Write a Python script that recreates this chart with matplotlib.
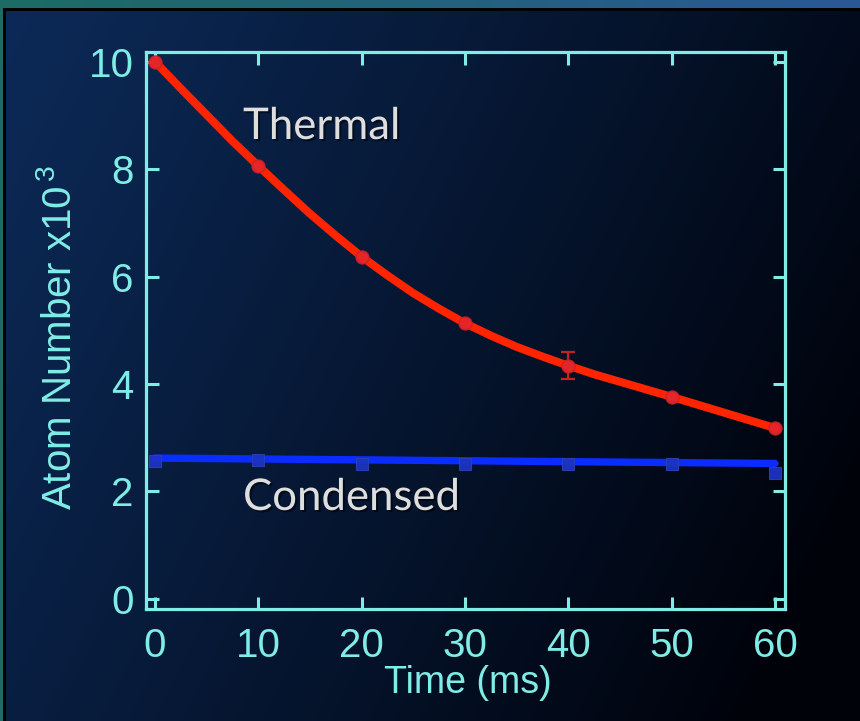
import numpy as np
import matplotlib
matplotlib.use("Agg")
import matplotlib.pyplot as plt
import matplotlib.patheffects as pe

# --- data -------------------------------------------------------------
time_ms = [0, 10, 20, 30, 40, 50, 60]
thermal = [10.0, 8.06, 6.37, 5.13, 4.34, 3.76, 3.18]
thermal_err = [0, 0, 0, 0, 0.25, 0, 0]
condensed = [2.57, 2.59, 2.51, 2.51, 2.51, 2.51, 2.35]

# fitted curves (sampled every 2.5 ms)
thermal_fit_t = [0, 2.5, 5, 7.5, 10, 12.5, 15, 17.5, 20, 22.5, 25, 27.5, 30,
                 32.5, 35, 37.5, 40, 42.5, 45, 47.5, 50, 52.5, 55, 57.5, 60]
thermal_fit_n = [10.0, 9.50, 9.01, 8.52, 8.06, 7.61, 7.17, 6.76, 6.37, 6.02,
                 5.69, 5.40, 5.13, 4.90, 4.69, 4.51, 4.34, 4.18, 4.04, 3.90,
                 3.76, 3.615, 3.47, 3.325, 3.18]
condensed_fit_t = [0, 60]
condensed_fit_n = [2.62, 2.52]

x_ticks = [0, 10, 20, 30, 40, 50, 60]
y_ticks = [0, 2, 4, 6, 8, 10]

W, H = 860, 721
CYAN = "#7FEDE6"

plt.rcParams["mathtext.fontset"] = "custom"
plt.rcParams["mathtext.rm"] = "Liberation Sans"
plt.rcParams["mathtext.it"] = "Liberation Sans"

fig = plt.figure(figsize=(W / 100, H / 100), dpi=100)

# --- slide-style background -------------------------------------------
yy, xx = np.mgrid[0:H, 0:W].astype(float)
bg = np.zeros((H, W, 3))
# outer teal frame
fx = xx / W
outer0 = np.array([28, 108, 100]) / 255
outer1 = np.array([42, 88, 150]) / 255
bg[:] = outer0 * (1 - fx[..., None]) + outer1 * fx[..., None]
# dark navy panel
s = np.clip(0.78 * xx / W + 0.32 * yy / H, 0, 1) ** 1.1
c0 = np.array([12, 42, 88]) / 255
c1 = np.array([0, 2, 10]) / 255
panel = c0 * (1 - s[..., None]) + c1 * s[..., None]
mask = (xx >= 6) & (yy >= 11)
bg[mask] = panel[mask]
bg[(yy >= 8) & (yy < 11) & (xx >= 4)] = 0
bg[(xx >= 3) & (xx < 6) & (yy >= 8)] = 0

bax = fig.add_axes([0, 0, 1, 1], zorder=-10)
bax.imshow(bg, extent=(0, W, H, 0), aspect="auto", interpolation="bilinear")
bax.set_axis_off()

# --- main axes --------------------------------------------------------
left, right, top, bottom = 146, 785, 52, 609
ax = fig.add_axes([left / W, 1 - bottom / H, (right - left) / W, (bottom - top) / H])
ax.set_facecolor("none")
ax.set_xlim(-0.87, 60.97)
ax.set_ylim(-0.19, 10.18)

for sp in ax.spines.values():
    sp.set_color(CYAN)
    sp.set_linewidth(2.3)

ax.set_xticks(x_ticks)
ax.set_yticks(y_ticks)
ax.tick_params(direction="in", length=9, width=2.2, color=CYAN,
               top=True, right=True, labelcolor=CYAN,
               labelsize=29)
ax.tick_params(axis="x", pad=13)
ax.tick_params(axis="y", pad=9)
for lab in ax.get_xticklabels() + ax.get_yticklabels():
    lab.set_fontfamily("Liberation Sans")

# thermal fit and data
ax.plot(thermal_fit_t, thermal_fit_n, color="#FF2400", lw=5.8,
        solid_capstyle="round", solid_joinstyle="round", zorder=3)
ax.errorbar(time_ms[4:5], thermal[4:5], yerr=thermal_err[4:5], fmt="none",
            ecolor="#C42222", elinewidth=1.6, capsize=4.8, capthick=1.6, zorder=4)
ax.plot(time_ms, thermal, "o", ms=9.5, color="#E5262C", mec="#C81E22",
        mew=0.8, alpha=0.95, zorder=5)

# condensed fit and data
ax.plot(condensed_fit_t, condensed_fit_n, color="#0A2CFF", lw=5.3,
        solid_capstyle="round", zorder=3)
ax.plot(time_ms, condensed, "s", ms=8.6, color="#1D33C4", mec="#2A3FB0",
        mew=0.8, alpha=0.95, zorder=5)

# --- labels -------------------------------------------------------------
fig.text(60 / W, 1 - 337 / H, r"Atom Number x10$^{\,3}$", rotation=90,
         ha="center", va="center", color=CYAN, fontsize=29,
         family="Liberation Sans")
fig.text(468 / W, 1 - 683 / H, "Time (ms)", ha="center", va="center",
         color=CYAN, fontsize=27, family="Liberation Sans")

shadow = [pe.withSimplePatchShadow(offset=(1.5, -1.5), shadow_rgbFace="black",
                                   alpha=0.5)]
fig.text(243 / W, 1 - 139 / H, "Thermal", ha="left", va="baseline",
         color="#DEDEDE", fontsize=31.5, family="Lato", path_effects=shadow)
fig.text(243 / W, 1 - 510 / H, "Condensed", ha="left", va="baseline",
         color="#DEDEDE", fontsize=31.5, family="Lato", path_effects=shadow)

fig.savefig("out.png", dpi=100)
